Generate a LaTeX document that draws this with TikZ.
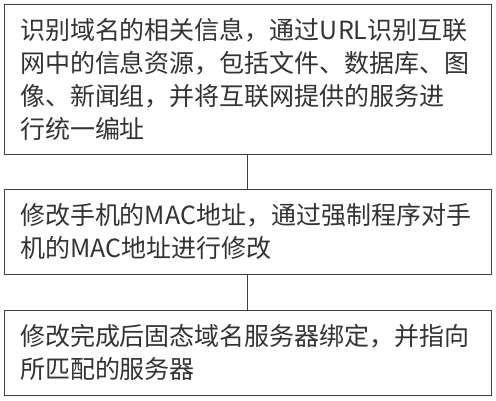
\documentclass[tikz,border=0pt]{standalone}
\usepackage{fontspec}
\setmainfont{Noto Sans CJK SC}
\begin{document}
\begin{tikzpicture}[x=1pt,y=-1pt,
  stepbox/.style={draw=black!75, line width=1pt, text=black!80,
    inner xsep=16pt, inner ysep=0pt, text width=455pt, align=left,
    minimum width=487pt, font=\fontsize{25}{33}\selectfont},
  link/.style={draw=black!75, line width=1pt}]
\useasboundingbox (0,0) rectangle (496,400);
\node[stepbox, minimum height=150pt] (a) at (247.5,79)
  {识别域名的相关信息，通过URL识别互联\\网中的信息资源，包括文件、数据库、图\\像、新闻组，并将互联网提供的服务进\\行统一编址};
\node[stepbox, minimum height=85pt] (b) at (247.5,231.5)
  {修改手机的MAC地址，通过强制程序对手\\机的MAC地址进行修改};
\node[stepbox, minimum height=85pt] (c) at (247.5,352.5)
  {修改完成后固态域名服务器绑定，并指向\\所匹配的服务器};
\draw[link] (a.south) -- (b.north);
\draw[link] (b.south) -- (c.north);
\end{tikzpicture}
\end{document}
